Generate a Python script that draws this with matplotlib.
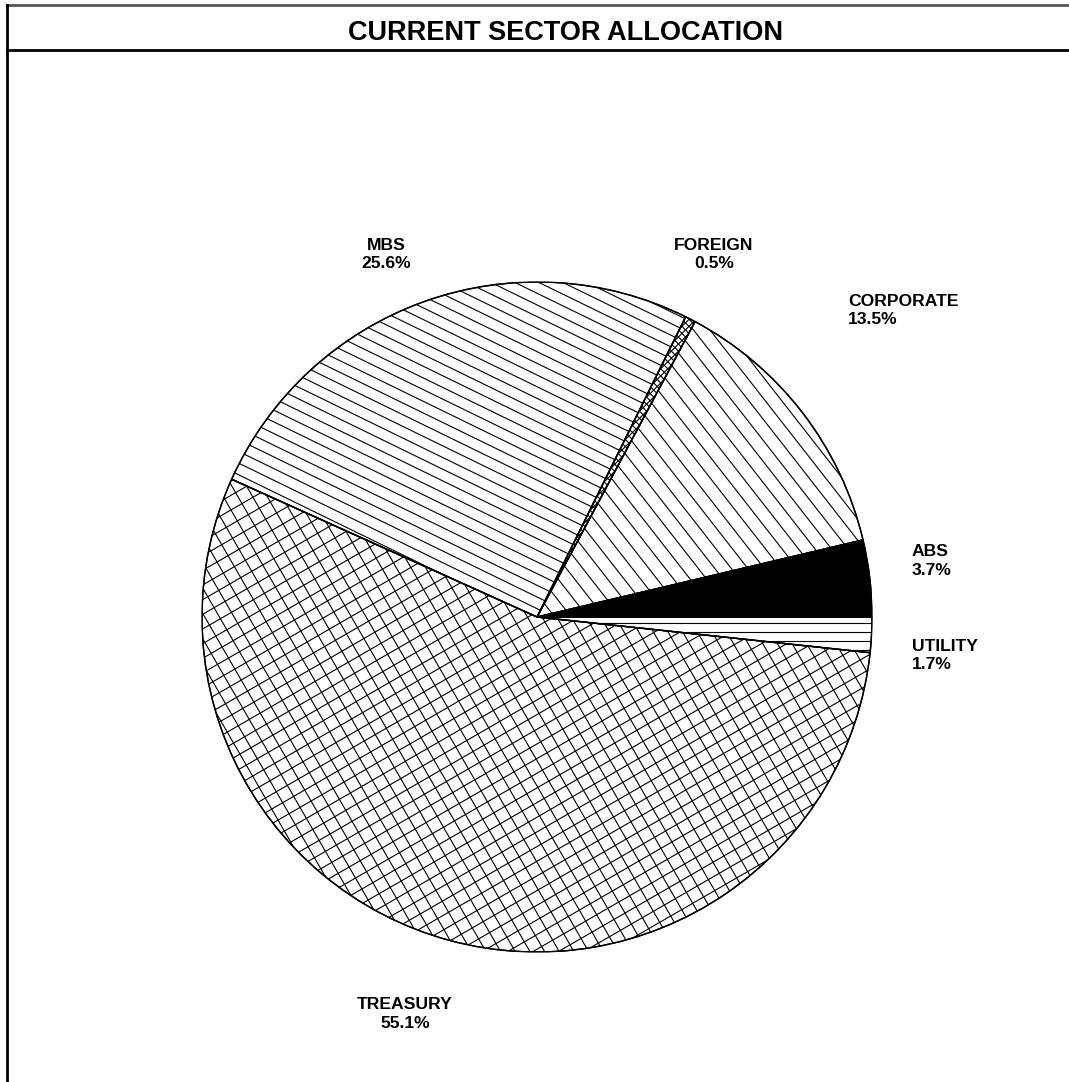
import numpy as np
import matplotlib
matplotlib.use("Agg")
import matplotlib.pyplot as plt
from matplotlib.collections import LineCollection
from matplotlib.patches import Wedge

plt.rcParams['font.family'] = ['Liberation Sans', 'DejaVu Sans']

# donnees
secteurs = ["ABS", "CORPORATE", "FOREIGN", "MBS", "TREASURY", "UTILITY"]
pourcentages = [3.7, 13.5, 0.5, 25.6, 55.1, 1.7]

# style des hachures : (angles en degres, espacement en px)
hachures = {
    "ABS": None,
    "CORPORATE": ([-52], 13),
    "FOREIGN": ([45, -45], 5),
    "MBS": ([-26], 10.5),
    "TREASURY": ([30, -60], 12.7),
    "UTILITY": ([0], 9),
}
# position des etiquettes (unites du rayon) et alignement
etiquettes = {
    "ABS": (1.119, 0.167, "left"),
    "CORPORATE": (0.928, 0.916, "left"),
    "FOREIGN": (0.528, 1.081, "center"),
    "MBS": (-0.451, 1.081, "center"),
    "TREASURY": (-0.394, -1.185, "center"),
    "UTILITY": (1.119, -0.116, "left"),
}

W, H = 1069, 1082
fig = plt.figure(figsize=(W / 100, H / 100), dpi=100)

# cadre et titre
cadre = fig.add_axes([0, 0, 1, 1])
cadre.set_xlim(0, W)
cadre.set_ylim(H, 0)
cadre.axis("off")
cadre.plot([7, W], [5, 5], color="#555555", lw=2)
cadre.plot([7, 7], [5, H], color="black", lw=2)
cadre.plot([7, W], [50, 50], color="black", lw=2)
cadre.text(566, 33, "CURRENT SECTOR ALLOCATION", ha="center", va="center",
           fontsize=19.5, fontweight="bold")

# camembert
R = 335
cx, cy = 537, 617
ax = fig.add_axes([(cx - R) / W, (H - cy - R) / H, 2 * R / W, 2 * R / H])

wedges, _ = ax.pie(pourcentages, startangle=0, counterclock=True, radius=1,
                   center=(0, 0), frame=True,
                   wedgeprops=dict(edgecolor="black", linewidth=1.0, facecolor="white"))
ax.set_xlim(-1, 1)
ax.set_ylim(-1, 1)
ax.axis("off")

for w, nom, pct in zip(wedges, secteurs, pourcentages):
    style = hachures[nom]
    if style is None:
        w.set_facecolor("black")
    else:
        angles, esp = style
        d = esp / R
        for a in angles:
            t = np.deg2rad(a)
            u = np.array([np.cos(t), np.sin(t)])
            n = np.array([-np.sin(t), np.cos(t)])
            segs = []
            for k in np.arange(-1.2, 1.2 + d, d):
                p = n * k
                segs.append([p - 1.5 * u, p + 1.5 * u])
            lc = LineCollection(segs, colors="black", linewidths=0.8, zorder=2)
            ax.add_collection(lc)
            lc.set_clip_path(w)
    # contour par-dessus les hachures
    ax.add_patch(Wedge(w.center, w.r, w.theta1, w.theta2, facecolor="none",
                       edgecolor="black", linewidth=1.0, zorder=3))
    x, y, ha = etiquettes[nom]
    ax.text(x, y, f"{nom}\n{pct}%", ha=ha, va="center", fontsize=12.6,
            fontweight="bold", linespacing=1.27, clip_on=False)

fig.savefig("out.png", dpi=100)
